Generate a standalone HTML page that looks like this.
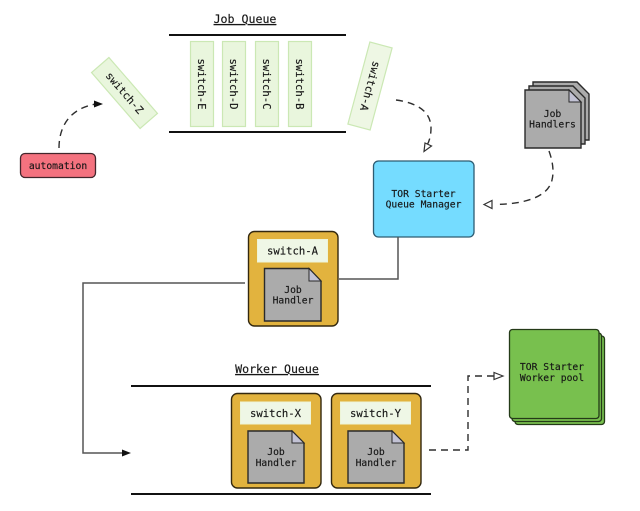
<!DOCTYPE html>
<html>
<head>
<meta charset="utf-8">
<style>
html,body{margin:0;padding:0;background:#fff;width:640px;height:511px;overflow:hidden}
svg{display:block}
text{font-family:"DejaVu Sans Mono","Liberation Mono",monospace;fill:#161616;text-anchor:middle;stroke:#161616;stroke-width:.15}
.t{font-size:10.6px}
.s{font-size:9.7px}
.h{font-size:11.6px;text-decoration:underline}
.sw{fill:#e9f6dd;stroke:#cbe8b4;stroke-width:1.2}
.card{fill:#e2b33e;stroke:#33280f;stroke-width:1.4}
.lab{fill:#eff7e6;stroke:#eef5d8;stroke-width:1}
.doc{fill:#ababab;stroke:#2a2a2a;stroke-width:1.4}
.fold{fill:#c2c2d4;stroke:#2a2a2a;stroke-width:1}
.d{fill:none;stroke:#2e2e2e;stroke-width:1.4;stroke-dasharray:7 5}
.q{stroke:#111;stroke-width:2;fill:none}
.c{fill:none;stroke:#555;stroke-width:1.5}
</style>
</head>
<body>
<svg width="640" height="511" viewBox="0 0 640 511" xmlns="http://www.w3.org/2000/svg">
<!-- Job queue -->
<text class="h" x="245" y="23">Job Queue</text>
<line class="q" x1="169" y1="35" x2="346" y2="35"/>
<line class="q" x1="169" y1="132" x2="346" y2="132"/>
<rect class="sw" x="190.5" y="41.5" width="23" height="85"/>
<rect class="sw" x="222.5" y="41.5" width="23" height="85"/>
<rect class="sw" x="255.5" y="41.5" width="23" height="85"/>
<rect class="sw" x="288.5" y="41.5" width="23" height="85"/>
<text class="t" transform="translate(198,84) rotate(90)" y="0">switch-E</text>
<text class="t" transform="translate(230,84) rotate(90)" y="0">switch-D</text>
<text class="t" transform="translate(263,84) rotate(90)" y="0">switch-C</text>
<text class="t" transform="translate(296,84) rotate(90)" y="0">switch-B</text>
<!-- switch-Z -->
<g transform="translate(124.500,93) rotate(49)">
<rect class="sw" x="-37" y="-11.500" width="74" height="23"/>
<text class="t" x="0" y="3.500">switch-Z</text>
</g>
<!-- switch-A rotated -->
<g transform="translate(370,86) rotate(105)">
<rect class="sw" style="fill:#eef7e4" x="-42.500" y="-11.500" width="85" height="23"/>
<text class="t" x="0" y="3.500">switch-A</text>
</g>
<!-- automation -->
<rect x="20.500" y="153.500" width="75" height="24" rx="4.500" fill="#f4727f" stroke="#43262c" stroke-width="1.300"/>
<text class="s" x="58" y="169">automation</text>
<path class="d" d="M59 148 C59 124 72 108 96 104"/>
<polygon points="94,100.500 103,104 94,107.500" fill="#111"/>
<!-- A to manager -->
<path class="d" d="M396 100 C418 103 431 112 431 128 C431 136 429 142 427 145"/>
<polygon points="424,151.500 425,143 431.500,146" fill="#fff" stroke="#333" stroke-width="1.200"/>
<!-- manager -->
<rect x="373.500" y="161" width="100.500" height="76" rx="5" fill="#75dcff" stroke="#2d5c72" stroke-width="1.300"/>
<text class="s" x="423.500" y="197">TOR Starter</text>
<text class="s" x="423.500" y="207.500">Queue Manager</text>
<!-- job handlers stack -->
<path class="doc" d="M533 82 H577 L589 94 V140 H533 Z"/>
<path class="doc" d="M529 86 H573 L585 98 V144 H529 Z"/>
<path class="doc" d="M525 90 H569 L581 102 V148 H525 Z"/>
<path class="fold" d="M569 90 V102 H581 Z"/>
<text class="s" x="552.500" y="117">Job</text>
<text class="s" x="552.500" y="127.500">Handlers</text>
<path class="d" d="M549 151 C553 162 554 172 552 180 C548 197 525 204 495 204.500"/>
<polygon points="484,204.500 492,200.500 492,208.500" fill="#fff" stroke="#333" stroke-width="1.200"/>
<!-- connectors -->
<path class="c" d="M398 237 V279 H339"/>
<path class="c" d="M245 283 H83 V453 H124"/>
<polygon points="122,449.500 131,453 122,456.500" fill="#111"/>
<!-- switch-A card -->
<rect class="card" x="248.500" y="231.500" width="89.500" height="94.500" rx="6"/>
<rect class="lab" x="257.500" y="239.500" width="70" height="22.500"/>
<text class="t" x="292.500" y="254.500">switch-A</text>
<path class="doc" d="M264.500 268.500 H309 L321 281 V321 H264.500 Z"/>
<path class="fold" d="M309 268.500 V281 H321 Z"/>
<text class="s" x="293" y="293">Job</text>
<text class="s" x="293" y="303.500">Handler</text>
<!-- Worker queue -->
<text class="h" x="277" y="373">Worker Queue</text>
<line class="q" x1="131" y1="386" x2="431" y2="386"/>
<line class="q" x1="131" y1="494" x2="431" y2="494"/>
<rect class="card" x="231.500" y="393.500" width="89.500" height="94.500" rx="6"/>
<rect class="lab" x="240.500" y="402" width="70" height="22"/>
<text class="t" x="275.500" y="417">switch-X</text>
<path class="doc" d="M248 431 H292 L304 443 V483 H248 Z"/>
<path class="fold" d="M292 431 V443 H304 Z"/>
<text class="s" x="276" y="455">Job</text>
<text class="s" x="276" y="466">Handler</text>
<rect class="card" x="331.500" y="393.500" width="89.500" height="94.500" rx="6"/>
<rect class="lab" x="340.500" y="402" width="70" height="22"/>
<text class="t" x="375.500" y="417">switch-Y</text>
<path class="doc" d="M348 431 H392 L404 443 V483 H348 Z"/>
<path class="fold" d="M392 431 V443 H404 Z"/>
<text class="s" x="376" y="455">Job</text>
<text class="s" x="376" y="466">Handler</text>
<!-- to worker pool -->
<path class="d" d="M429 450 H468 V376 H494"/>
<polygon points="503,376 494,372.500 494,379.500" fill="#fff" stroke="#333" stroke-width="1.200"/>
<!-- worker pool -->
<rect x="515" y="336" width="89.500" height="88.500" rx="3" fill="#78c04e" stroke="#243a18" stroke-width="1.300"/>
<rect x="512" y="333" width="89.500" height="88.500" rx="3" fill="#78c04e" stroke="#243a18" stroke-width="1.300"/>
<rect x="509.500" y="329.500" width="89.500" height="89" rx="3" fill="#78c04e" stroke="#243a18" stroke-width="1.300"/>
<text class="s" x="552" y="370">TOR Starter</text>
<text class="s" x="552" y="381">Worker pool</text>
</svg>
</body>
</html>
